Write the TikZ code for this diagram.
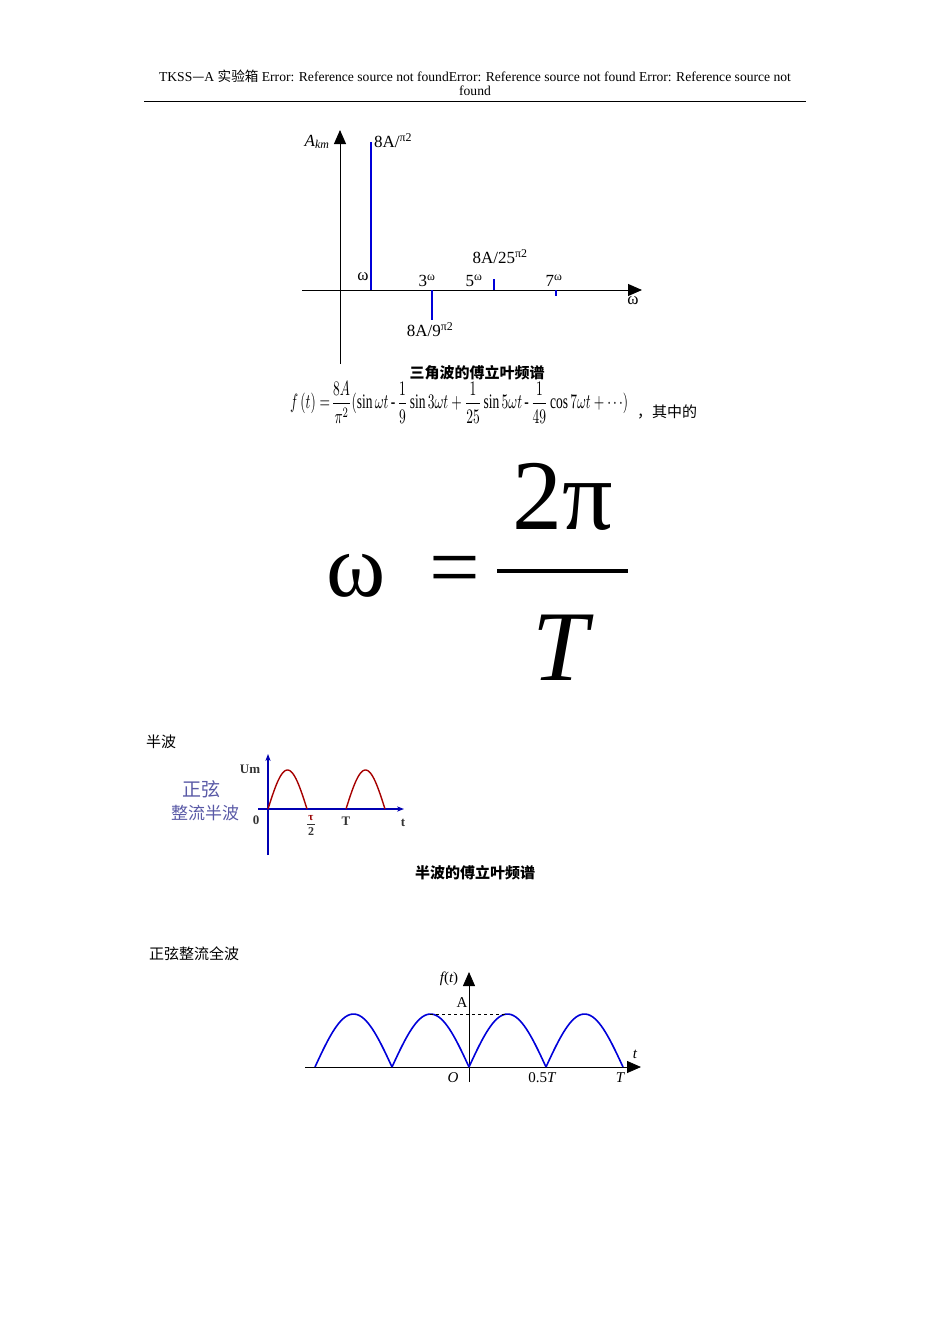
\documentclass[tikz,border=0pt]{standalone}
\usepackage{fontspec}
\setmainfont{Liberation Serif}
\newfontfamily\cjk{Noto Sans CJK SC}
\usetikzlibrary{arrows.meta}
\begin{document}
\begin{tikzpicture}[x=1pt,y=-1pt,
  ax/.style={line width=1pt,-{Triangle[length=14pt,width=12pt]}},
  bar/.style={blue!85!black,line width=2.6pt},
  lbl/.style={inner sep=0pt,font=\fontsize{17}{17}\selectfont},
  txt/.style={inner sep=0pt,font=\fontsize{14}{14}\selectfont},
  wave/.style={blue!85!black,line width=1.6pt},
  rwave/.style={red!65!black,line width=1.4pt}]
\useasboundingbox (0,0) rectangle (950,1344);
% header
\node[txt,font=\fontsize{13.6}{13.6}\selectfont] (h1) at (475,76) {TKSS{\cjk —}A {\cjk 实验箱} Error: Reference source not foundError: Reference source not found Error: Reference source not};
\node[txt,font=\fontsize{13.6}{13.6}\selectfont] (h2) at (475,91) {found};
\draw[line width=0.8pt] (144,101) -- (806,101);
% spectrum
\coordinate (yb) at (340,364); \coordinate (yt) at (340,130);
\coordinate (xl) at (302,290); \coordinate (xr) at (642,290);
\draw[ax] (yb) -- (yt);
\draw[ax] (xl) -- (xr);
\draw[bar] (371,290) -- (371,142);
\draw[bar] (432,290) -- (432,320);
\draw[bar] (494,290) -- (494,279);
\draw[bar] (556,290) -- (556,296);
\node[lbl] (ak) at (317,142) {\itshape A\textsubscript{km}};
\node[lbl,anchor=west] (l1) at (374,141) {8A/\textsuperscript{π2}};
\node[lbl] (w1) at (363,277) {ω};
\node[lbl] (w3) at (427,281) {3\textsuperscript{ω}};
\node[lbl] (w5) at (474,281) {5\textsuperscript{ω}};
\node[lbl] (w7) at (554,281) {7\textsuperscript{ω}};
\node[lbl] (wx) at (633,301) {ω};
\node[lbl] (l25) at (500,257) {8A/25\textsuperscript{π2}};
\node[lbl] (l9) at (430,330) {8A/9\textsuperscript{π2}};
\node[inner sep=0pt,font=\cjk\bfseries\fontsize{15}{15}\selectfont] (cap1) at (477,373) {三角波的傅立叶频谱};
\node[inner sep=0pt,anchor=west] (f) at (290,402)
 {\resizebox{338pt}{28pt}{$\displaystyle f\,(t)=\!\frac{8A}{\pi^2}(\sin\omega t\,\mbox{-}\,\frac19\sin3\omega t+\frac1{25}\sin5\omega t\,\mbox{-}\,\frac1{49}\cos7\omega t+\cdots)$}};
\node[inner sep=0pt,font=\cjk\fontsize{15}{15}\selectfont] (qz) at (667,412) {，其中的};
% big formula
\node[inner sep=0pt,font=\fontsize{90}{90}\selectfont] (om) at (356,576) {ω};
\node[inner sep=0pt,font=\fontsize{90}{90}\selectfont] (eq) at (455,577) {=};
\draw[line width=4pt] (497,571) -- (628,571);
\node[inner sep=0pt,font=\fontsize{100}{100}\selectfont] (tp) at (563,497) {2π};
\node[inner sep=0pt,font=\fontsize{100}{100}\selectfont] (tt) at (560,648) {\itshape T};
% half wave
\node[inner sep=0pt,font=\cjk\fontsize{15}{15}\selectfont] (bb) at (161,742) {半波};
\draw[blue!70!black,line width=1.3pt,-{Stealth[length=7pt]}] (268,855) -- (268,754);
\draw[blue!70!black,line width=1.3pt,-{Stealth[length=7pt]}] (258,809) -- (404,809);
\draw[rwave] plot[domain=0:180,samples=40] ({268+39*\x/180},{809-39*sin(\x)});
\draw[rwave] plot[domain=0:180,samples=40] ({346+39*\x/180},{809-39*sin(\x)});
\node[inner sep=0pt,font=\bfseries\fontsize{13}{13}\selectfont,gray!40!black] (um) at (250,769) {Um};
\node[inner sep=0pt,font=\cjk\fontsize{19}{19}\selectfont,gray!70!blue] (zx) at (201,789) {正弦};
\node[inner sep=0pt,font=\cjk\fontsize{17}{17}\selectfont,gray!70!blue] (zl) at (205,813) {整流半波};
\node[inner sep=0pt,font=\bfseries\fontsize{13}{13}\selectfont,gray!40!black] (z0) at (256,820) {0};
\node[inner sep=0pt,font=\bfseries\fontsize{11}{11}\selectfont,red!60!black] (tau) at (311,818) {τ};
\draw[gray!40!black,line width=0.8pt] (307,824) -- (315,824);
\node[inner sep=0pt,font=\bfseries\fontsize{12}{12}\selectfont,gray!40!black] (tw) at (311,832) {2};
\node[inner sep=0pt,font=\bfseries\fontsize{13}{13}\selectfont,gray!40!black] (bT) at (346,821) {T};
\node[inner sep=0pt,font=\bfseries\fontsize{13}{13}\selectfont,gray!40!black] (bt) at (403,823) {t};
\node[inner sep=0pt,font=\cjk\bfseries\fontsize{15}{15}\selectfont] (cap2) at (475,873) {半波的傅立叶频谱};
% full wave
\node[inner sep=0pt,font=\cjk\fontsize{15}{15}\selectfont] (qb) at (194,954) {正弦整流全波};
\draw[ax,line width=0.8pt] (469,1082) -- (469,972);
\draw[ax,line width=0.8pt] (305,1067) -- (641,1067);
\foreach \s in {315,392,469,546}
  \draw[wave] plot[domain=0:180,samples=40] ({\s+77*\x/180},{1067-53*sin(\x)});
\draw[dashed,line width=0.8pt] (430,1014) -- (508,1014);
\node[lbl,font=\fontsize{15}{15}\selectfont] (ft) at (449,979) {\itshape f\upshape(\itshape t\upshape)};
\node[lbl,font=\fontsize{15}{15}\selectfont] (fa) at (462,1003) {A};
\node[lbl,font=\fontsize{15}{15}\selectfont] (ftt) at (635,1054) {\itshape t};
\node[lbl,font=\fontsize{15}{15}\selectfont] (fo) at (453,1078) {\itshape O};
\node[lbl,font=\fontsize{15}{15}\selectfont] (f5) at (542,1078) {0.5\itshape T};
\node[lbl,font=\fontsize{15}{15}\selectfont] (fT) at (620,1078) {\itshape T};
\end{tikzpicture}
\end{document}
